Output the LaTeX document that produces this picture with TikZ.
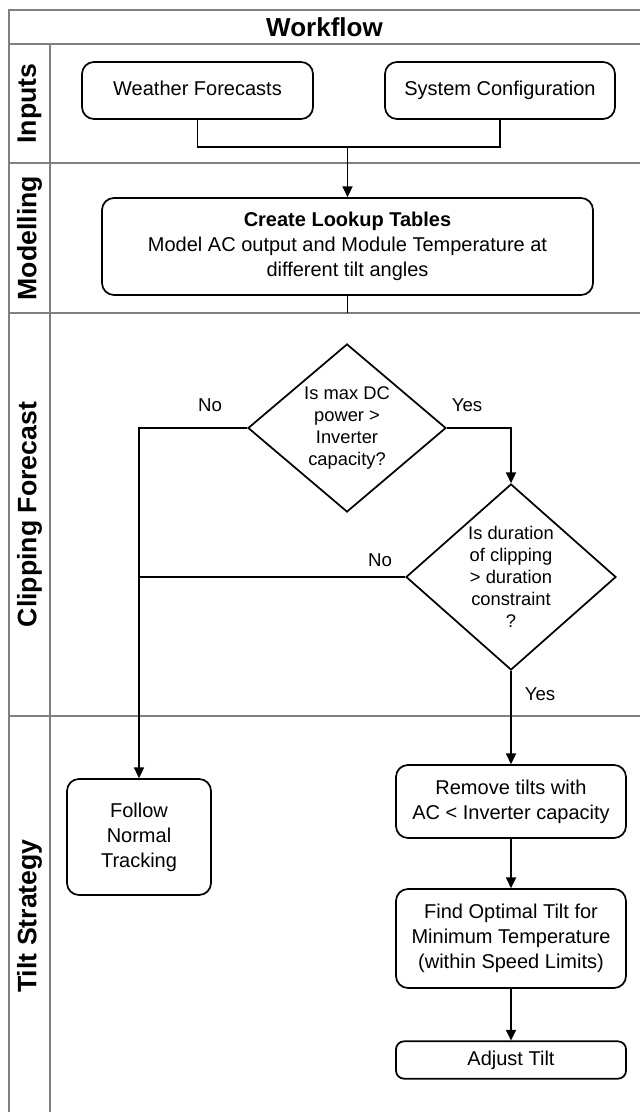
\documentclass[tikz,border=0pt]{standalone}
\usepackage{fontspec}
\setmainfont{Liberation Sans}
\usetikzlibrary{shapes.geometric,arrows.meta}
\begin{document}
\begin{tikzpicture}[x=0.75pt,y=-0.75pt,
  lane/.style={draw=black!50,line width=1.2pt},
  box/.style={draw,line width=1.3pt,rounded corners=9pt,align=center,inner sep=0pt,font=\fontsize{15}{18.75}\selectfont},
  dec/.style={draw,diamond,line width=1.3pt,align=center,inner sep=0pt,font=\fontsize{13.75}{16.5}\selectfont},
  lanelabel/.style={rotate=90,font=\bfseries\fontsize{20}{22}\selectfont},
  lbl/.style={font=\fontsize{14}{16}\selectfont},
  conn/.style={line width=1.3pt},
  arr/.style={conn,-{Triangle[length=8pt,width=7.5pt]}}]
\useasboundingbox (0,0) rectangle (640,1112);
\fill[white] (0,0) rectangle (640,1112);
% swimlane frame
\draw[lane] (9,1112) -- (9,10) -- (640,10);
\draw[lane] (9,44) -- (640,44);
\draw[lane] (9,163) -- (640,163);
\draw[lane] (9,313) -- (640,313);
\draw[lane] (9,716) -- (640,716);
\draw[lane] (50,44) -- (50,1112);
% header and lane labels
\node[font=\bfseries\fontsize{19.5}{22}\selectfont] (hdr) at (324.5,27) {Workflow};
\node[lanelabel] (l1) at (29.5,103.5) {Inputs};
\node[lanelabel] (l2) at (29.5,238) {Modelling};
\node[lanelabel] (l3) at (29.5,514.5) {Clipping Forecast};
\node[lanelabel] (l4) at (29.5,916) {Tilt Strategy};
% nodes
\node[box,minimum width=173.25pt,minimum height=42.75pt,text height=10.5pt,text depth=3pt] (wf) at (197.5,90.5) {Weather Forecasts};
\node[box,minimum width=172.5pt,minimum height=42.75pt,text height=10.5pt,text depth=3pt] (sc) at (500,90.5) {System Configuration};
\node[box,minimum width=368.25pt,minimum height=72.75pt] (clt) at (347.5,246.5)
  {\textbf{Create Lookup Tables}\\Model AC output and Module Temperature at\\different tilt angles};
\node[dec,minimum width=148.5pt,minimum height=126pt,shape aspect=1.18] (d1) at (347,428)
  {Is max DC\\power >\\Inverter\\capacity?};
\node[dec,minimum width=157.5pt,minimum height=139.5pt,shape aspect=1.13] (d2) at (511,577)
  {Is duration\\of clipping\\> duration\\constraint\\?};
\node[box,minimum width=108pt,minimum height=87pt] (fnt) at (139,837) {Follow\\Normal\\Tracking};
\node[box,minimum width=172.5pt,minimum height=54.75pt] (rt) at (511,801.5) {Remove tilts with\\AC < Inverter capacity};
\node[box,minimum width=172.5pt,minimum height=74.25pt] (fo) at (511,938.5) {Find Optimal Tilt for\\Minimum Temperature\\(within Speed Limits)};
\node[box,rounded corners=6pt,minimum width=172.5pt,minimum height=28pt,text height=10.5pt,text depth=3pt] (adj) at (511,1060) {Adjust Tilt};
% labels
\node[lbl] (no1) at (210,405) {No};
\node[lbl] (yes1) at (467,405) {Yes};
\node[lbl] (no2) at (380,560) {No};
\node[lbl] (yes2) at (540,694) {Yes};
% connectors
\coordinate (j) at (347.5,147);
\coordinate (m1) at (347.5,313);
\draw[conn] (wf.south) |- (j) -| (sc.south);
\draw[arr] (j) -- (clt.north);
\draw[conn] (clt.south) -- (m1);
\draw[arr] (d1.east) -| (d2.north);
\draw[arr] (d1.west) -| (fnt.north);
\draw[conn] (d2.west) -- (d2.west -| fnt.north);
\draw[arr] (d2.south) -- (rt.north);
\draw[arr] (rt.south) -- (fo.north);
\draw[arr] (fo.south) -- (adj.north);
\end{tikzpicture}
\end{document}
